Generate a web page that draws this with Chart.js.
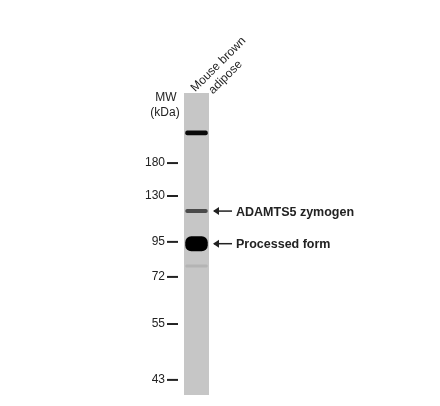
<!DOCTYPE html>
<html><head><meta charset="utf-8">
<script src="https://cdn.jsdelivr.net/npm/chart.js@4"></script>
<style>body{margin:0;background:#fff}#wrap{width:440px;height:406px}</style>
</head><body><div id="wrap"><canvas id="blot"></canvas></div>
<script>
// migration distance in % of lane length (0 = top of lane)
const mwLabels = ["180", "130", "95", "72", "55", "43"];
const mwPositions = [23.2, 34.1, 49.3, 60.9, 76.5, 95.0];
const bandNames = ["top", "ADAMTS5 zymogen", "Processed form", "faint"];
const bandCenters = [13.2, 39.1, 49.9, 57.3];
const bandWidths = [1.6, 1.3, 5.0, 1.0];
const bandColors = ["#0a0a0a", "#4a4a4a", "#000", "#b4b4b4"];
const laneLabel = ["Mouse brown", "adipose"];
const arrows = [{ at: 39.1, text: "ADAMTS5 zymogen" }, { at: 49.9, text: "Processed form" }];

const datasets = [{
  data: [[0, 100]],
  backgroundColor: "#c6c6c6",
  grouped: false,
  order: 10,
}];
bandCenters.forEach((c, i) => {
  datasets.push({
    label: bandNames[i],
    data: [[c - bandWidths[i] / 2, c + bandWidths[i] / 2]],
    backgroundColor: bandColors[i],
    borderRadius: i === 2 ? 6 : 2,
    borderSkipped: false,
    grouped: false,
    barPercentage: 0.9,
    order: 1,
  });
});

const labelsPlugin = {
  id: "labels",
  afterDraw(chart) {
    const ctx = chart.ctx;
    const y = chart.scales.y;
    const left = chart.chartArea.left;
    const right = chart.chartArea.right;
    ctx.save();
    ctx.fillStyle = "#222";
    ctx.strokeStyle = "#222";
    ctx.font = "12px 'Liberation Sans', Arial";
    ctx.textBaseline = "middle";
    ctx.textAlign = "right";
    mwLabels.forEach((l, i) => {
      const py = y.getPixelForValue(mwPositions[i]);
      ctx.fillText(l, left - 19, py);
      ctx.lineWidth = 2;
      ctx.beginPath(); ctx.moveTo(left - 17, py); ctx.lineTo(left - 6, py); ctx.stroke();
    });
    ctx.textAlign = "center";
    ctx.fillText("MW", left - 18, 98);
    ctx.fillText("(kDa)", left - 19, 113);
    // lane label
    ctx.save();
    ctx.translate(left + 9, 90);
    ctx.rotate(-Math.PI / 4);
    ctx.textAlign = "left";
    ctx.fillText(laneLabel[0], 0, 0);
    ctx.fillText(laneLabel[1], 11, 14);
    ctx.restore();
    // arrows
    ctx.font = "bold 12.5px 'Liberation Sans', Arial";
    ctx.textAlign = "left";
    arrows.forEach(a => {
      const py = y.getPixelForValue(a.at);
      ctx.lineWidth = 1.5;
      ctx.beginPath(); ctx.moveTo(right + 5, py); ctx.lineTo(right + 23, py); ctx.stroke();
      ctx.beginPath(); ctx.moveTo(right + 4, py); ctx.lineTo(right + 10, py - 4); ctx.lineTo(right + 10, py + 4); ctx.closePath(); ctx.fill();
      ctx.fillText(a.text, right + 27, py + 1);
    });
    ctx.restore();
  }
};

new Chart(document.getElementById("blot"), {
  type: "bar",
  data: { labels: [""], datasets: datasets },
  options: {
    responsive: true,
    maintainAspectRatio: false,
    animation: false,
    layout: { padding: { left: 184, right: 231, top: 93, bottom: 11 } },
    datasets: { bar: { categoryPercentage: 1, barPercentage: 1 } },
    plugins: { legend: { display: false }, tooltip: { enabled: false } },
    scales: {
      x: { display: false },
      y: { display: false, reverse: true, min: 0, max: 100 },
    },
  },
  plugins: [labelsPlugin],
});
</script>
</body></html>
